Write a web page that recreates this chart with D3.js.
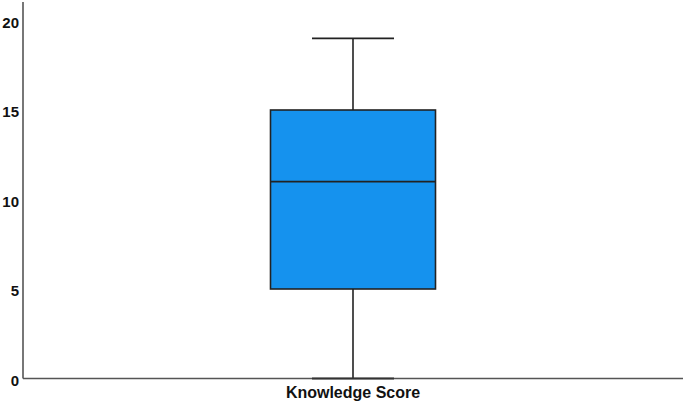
<!DOCTYPE html>
<html>
<head>
<meta charset="utf-8">
<script src="https://cdn.jsdelivr.net/npm/d3@7"></script>
<style>
  body { margin: 0; background: #fff; }
  svg { display: block; }
  .tick text, .cat { font-family: "Liberation Sans", Arial, sans-serif; font-weight: bold; fill: #111; }
</style>
</head>
<body>
<svg id="chart" width="685" height="404"></svg>
<script>
// Box plot summary
const categories = ['Knowledge Score'];
const minVals = [0];
const q1Vals = [5];
const medianVals = [11];
const q3Vals = [15];
const maxVals = [19];
const yTicks = [0, 5, 10, 15, 20];

const svg = d3.select('#chart');
const margin = { top: 20.5, right: 2, bottom: 25.5, left: 23 };
const width = 685 - margin.left - margin.right;
const height = 404 - margin.top - margin.bottom;

const g = svg.append('g').attr('transform', `translate(${margin.left},${margin.top})`);

const y = d3.scaleLinear().domain([0, 20]).range([height, 0]);
const x = d3.scaleBand().domain(categories).range([0, width]).padding(0.5);

// Axes
const yAxis = g.append('g')
  .call(d3.axisLeft(y).tickValues(yTicks).tickSize(0).tickPadding(4));
yAxis.select('.domain').remove();
yAxis.selectAll('text').attr('font-size', 15).attr('dy', '0.45em');

const xAxis = g.append('g')
  .attr('transform', `translate(0,${height})`)
  .call(d3.axisBottom(x).tickSize(0).tickPadding(8));
xAxis.select('.domain').remove();
xAxis.selectAll('text').attr('class', 'cat').attr('font-size', 16);

// Axis lines
g.append('line')
  .attr('x1', 0).attr('x2', 0)
  .attr('y1', -18.5).attr('y2', height)
  .attr('stroke', '#555').attr('stroke-width', 1.6);
g.append('line')
  .attr('x1', 0).attr('x2', width)
  .attr('y1', height).attr('y2', height)
  .attr('stroke', '#555').attr('stroke-width', 1.6);

const boxW = 165;
const capW = 82;

const data = categories.map((c, i) => ({
  cat: c, min: minVals[i], q1: q1Vals[i], med: medianVals[i], q3: q3Vals[i], max: maxVals[i]
}));

const box = g.selectAll('g.box')
  .data(data)
  .join('g')
  .attr('class', 'box')
  .attr('transform', (d) => `translate(${x(d.cat) + x.bandwidth() / 2},0)`);

// Whiskers
box.append('line')
  .attr('x1', 0).attr('x2', 0)
  .attr('y1', (d) => y(d.max)).attr('y2', (d) => y(d.q3))
  .attr('stroke', '#222').attr('stroke-width', 1.6);
box.append('line')
  .attr('x1', 0).attr('x2', 0)
  .attr('y1', (d) => y(d.q1)).attr('y2', (d) => y(d.min))
  .attr('stroke', '#222').attr('stroke-width', 1.6);
box.append('line')
  .attr('x1', -capW / 2).attr('x2', capW / 2)
  .attr('y1', (d) => y(d.max)).attr('y2', (d) => y(d.max))
  .attr('stroke', '#222').attr('stroke-width', 1.6);
box.append('line')
  .attr('x1', -capW / 2).attr('x2', capW / 2)
  .attr('y1', (d) => y(d.min)).attr('y2', (d) => y(d.min))
  .attr('stroke', '#333').attr('stroke-width', 1.8);

// Box and median
box.append('rect')
  .attr('x', -boxW / 2)
  .attr('width', boxW)
  .attr('y', (d) => y(d.q3))
  .attr('height', (d) => y(d.q1) - y(d.q3))
  .attr('fill', '#1592ee')
  .attr('stroke', '#222').attr('stroke-width', 1.6);
box.append('line')
  .attr('x1', -boxW / 2).attr('x2', boxW / 2)
  .attr('y1', (d) => y(d.med)).attr('y2', (d) => y(d.med))
  .attr('stroke', '#222').attr('stroke-width', 1.8);
</script>
</body>
</html>
